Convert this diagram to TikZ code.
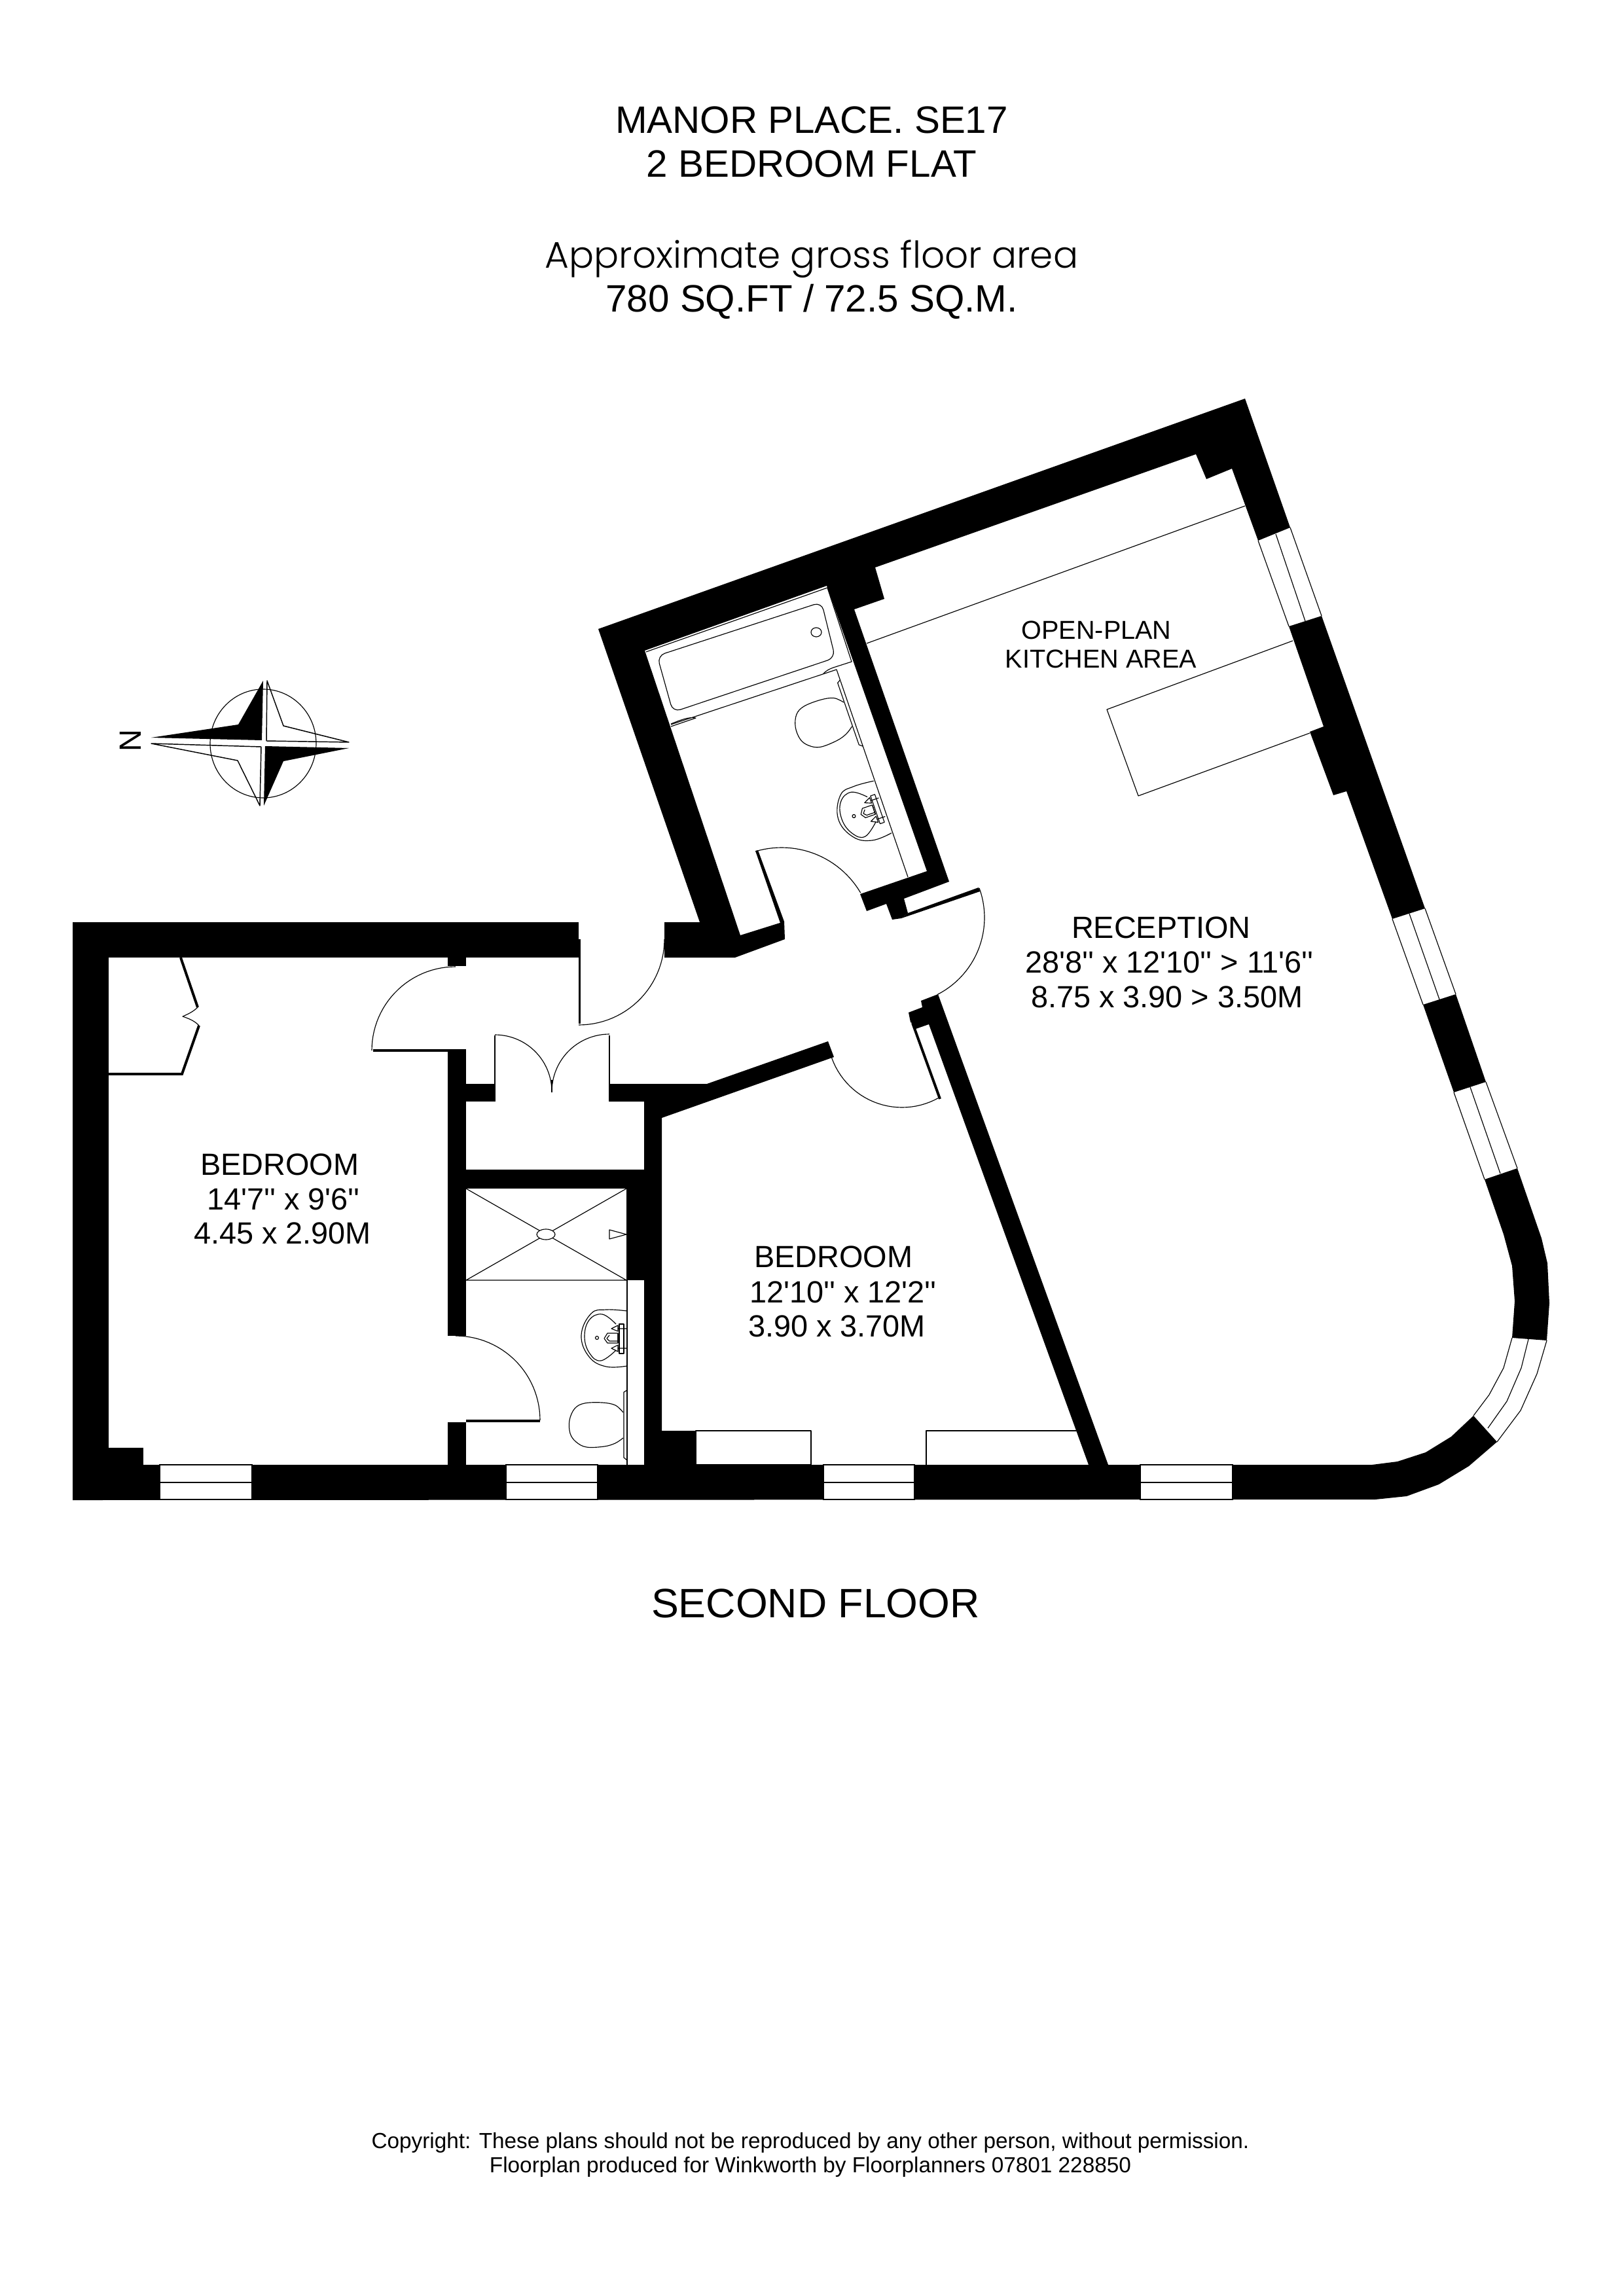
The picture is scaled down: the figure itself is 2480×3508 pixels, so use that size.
\documentclass[tikz,border=0pt]{standalone}
\usepackage{fontspec}
\newfontfamily\arl{Liberation Sans}
\newfontfamily\geo{Poppins}[UprightFont=* Light]
\tikzset{
  wall/.style={fill=black,draw=none},
  thinline/.style={draw=black,line width=0.28pt,line join=round},
  leaf/.style={draw=black,line width=0.95pt},
  glass/.style={fill=white,draw=black,line width=0.28pt},
  txt/.style={inner sep=0pt,outer sep=0pt,text=black,anchor=base west,font=\arl\fontsize{11.25}{13}\selectfont},
  small/.style={txt,anchor=base,font=\arl\fontsize{9.5}{11}\selectfont},
  head/.style={txt,anchor=base,font=\arl\fontsize{14}{16}\selectfont},
  foot/.style={txt,anchor=base,font=\arl\fontsize{8}{9}\selectfont}
}
\newcommand{\swing}[5]{\draw[thinline] plot[domain=#4:#5,samples=28] ({#1+#3*cos(\x)},{#2+#3*sin(\x)});}
\newcommand{\basin}[3]{\begin{scope}[shift={(#1,#2)},rotate=#3]
  \draw[thinline] plot[smooth,tension=0.7] coordinates {(0,-41)(-32,-43)(-55,-37)(-70,-4)(-58,29)(-32,44)(0,43)};
  \draw[thinline] plot[smooth,tension=0.7] coordinates {(-17,-21)(-38,-36)(-58,-27)(-65,-1)(-57,24)(-40,35)(-17,19)};
  \draw[thinline] (-46,0) circle [radius=2.5];
  \draw[thinline] (-12,-21) rectangle (-5,24);
  \draw[thinline] (-14,-7)--(-30,-7)--(-35,1)--(-30,8)--(-14,8)--cycle;
  \draw[thinline] (-14,-7)--(-14,8) (-27,-4)--(-31,1)--(-27,5)--(-14,5);
  \draw[thinline] (-24,-14)--(-14,-19)--(-14,-10)--cycle (-14,-14)--(-1,-14);
  \draw[thinline] (-24,16)--(-14,11)--(-14,21)--cycle (-14,16)--(-1,16);
\end{scope}}
\newcommand{\closet}[3]{\begin{scope}[shift={(#1,#2)},rotate=#3]
  \draw[thinline] plot[smooth,tension=0.6] coordinates {(-6,-20)(-18,-31)(-38,-35)(-65,-34)(-80,-26)(-88,-8)(-87,12)(-78,25)(-62,33)(-35,32)(-18,27)(-6,19)};
  \draw[thinline] (0,-54)--(-5,-51)--(-5,49)--(0,53);
\end{scope}}
\begin{document}
\begin{tikzpicture}[x=0.24pt,y=-0.24pt]
\useasboundingbox (0,0) rectangle (2480,3508);
% headings
\node[head] (t1) at (1240,204) {MANOR PLACE. SE17};
\node[head] (t2) at (1240,271) {2 BEDROOM FLAT};
\node[head,font=\geo\fontsize{13.55}{16}\selectfont] (t3) at (1240,410) {Approximate gross floor area};
\node[head] (t4) at (1240,477) {780 SQ.FT / 72.5 SQ.M.};
% compass
\draw[thinline] (402,1136) ellipse [x radius=81,y radius=83];
\fill[black] (231,1127)--(364,1107)--(402,1040)--(400,1131)--cycle;
\fill[black] (533,1143)--(433,1163)--(403,1231)--(405,1140)--cycle;
\draw[thinline,line width=0.35pt] (408,1040)--(433,1109)--(533,1134)--(407,1132)--cycle;
\draw[thinline,line width=0.35pt] (231,1136)--(363,1162)--(397,1231)--(399,1141)--cycle;
\node[txt,anchor=center,rotate=90] (north) at (199,1132) {N};
% door swings (under the walls)
\swing{696}{1605}{128}{180}{270}
\swing{696}{2170}{129}{-90}{0}
\swing{884}{1435}{131}{0}{90}
\swing{756}{1668}{87}{-90}{0}
\swing{931}{1668}{88}{180}{270}
\swing{1194}{1435}{140}{-106.6}{-30.4}
\swing{1372}{1402}{132}{-20}{63}
\swing{1378}{1578}{114}{60.6}{160.4}
\draw[thinline] (843,1650)--(843,1669);
% walls
\fill[wall] (111,1409) rectangle (884,1463);
\fill[wall] (111,1409) rectangle (166,2292);
\fill[wall] (111,2238)--(2096,2238)--(2135,2233)--(2178,2219)--(2217,2195)--(2251,2163)--(2287,2203)--(2244,2240)--(2198,2268)--(2149,2286)--(2101,2291)--(111,2292)--cycle;
\fill[wall] (166,2212) rectangle (219,2238);
\fill[wall] (684,1463) rectangle (712,1476);
\fill[wall] (684,1607) rectangle (712,2041);
\fill[wall] (684,2173) rectangle (712,2238);
\fill[wall] (712,1656) rectangle (756,1683);
\fill[wall] (931,1656)--(1080,1656)--(1265,1591)--(1274,1615)--(1011,1708)--(1011,2238)--(984,2238)--(984,1683)--(931,1683)--cycle;
\fill[wall] (712,1787) rectangle (984,1816);
\fill[wall] (957,1816) rectangle (984,1956);
\fill[wall] (1011,2186) rectangle (1063,2238);
\fill[wall] (1407,1529)--(1433,1519)--(1693,2238)--(1663,2238)--(1419,1565)--(1399,1572)--(1396,1564)--(1391,1562)--(1388,1547)--(1409,1539)--cycle;
\fill[wall] (914,961)--(1902,609)--(1971,806)--(1922,826)--(1882,716)--(1843,732)--(1827,694)--(1337,867)--(1351,915)--(1305,931)--(1450,1347)--(1381,1373)--(1387,1395)--(1377,1403)--(1363,1405)--(1354,1381)--(1324,1392)--(1314,1366)--(1416,1331)--(1263,895)--(985,994)--(1131,1429)--(1198,1408)--(1199,1435)--(1123,1463)--(1015,1463)--(1015,1409)--(1069,1409)--cycle;
\fill[wall] (1969,957)--(2019,941)--(2177,1388)--(2127,1404)--(2057,1209)--(2037,1215)--(2001,1118)--(2022,1110)--cycle;
\fill[wall] (2174,1535)--(2224,1519)--(2270,1653)--(2221,1669)--cycle;
\fill[wall] (2268,1802)--(2318,1785)--(2355,1892)--(2364,1930)--(2367,1991)--(2363,2048)--(2310,2044)--(2314,1988)--(2310,1934)--(2297,1886)--cycle;
% door leaves
\draw[leaf] (570,1605)--(712,1605);
\draw[leaf] (712,2171)--(825,2171);
\draw[leaf,line width=0.8pt] (885.5,1435)--(885.5,1564);
\draw[leaf,line width=0.5pt] (756,1582)--(756,1683);
\draw[leaf,line width=0.5pt] (931,1582)--(931,1683);
\fill[wall] (1154,1300)--(1158,1299)--(1198,1408)--(1194,1416)--cycle;
\fill[wall] (1387,1395)--(1495,1356)--(1497,1362)--(1377,1403)--cycle;
\draw[leaf] (1394,1563)--(1436,1679);
\draw[leaf] (166,1641)--(278,1641)--(304,1567);
\draw[leaf] (276,1463)--(302,1539);
\draw[thinline] (302,1539) .. controls (295,1546) and (286,1550) .. (279,1553) .. controls (288,1556) and (298,1560) .. (304,1567);
% windows in the bottom wall
\foreach \a/\b in {244/385,773/913,1258/1397,1742/1883}{
  \draw[glass] (\a,2238) rectangle (\b,2291);
  \draw[thinline] (\a,2265)--(\b,2265);
}
% windows in the right wall
\draw[thinline] (1922,826)--(1969,957) (1949,816)--(1994,949) (1971,806)--(2019,941);
\draw[thinline] (2127,1404)--(2174,1535) (2153,1396)--(2199,1527) (2177,1388)--(2224,1519);
\draw[thinline] (2221,1669)--(2268,1802) (2246,1661)--(2292,1793) (2270,1653)--(2318,1785);
\draw[thinline] (2310,2044)--(2297,2090)--(2275,2131)--(2251,2163);
\draw[thinline] (2335,2046)--(2324,2090)--(2302,2141)--(2273,2182);
\draw[thinline] (2363,2048)--(2348,2099)--(2323,2155)--(2287,2203);
% kitchen
\draw[thinline] (1324,983)--(1902,773);
\draw[thinline] (1975,979)--(1691,1084)--(1739,1216)--(2001,1120);
% bedroom 2 units
\draw[thinline] (1063,2186) rectangle (1239,2238);
\draw[thinline] (1645,2186)--(1415,2186)--(1415,2238);
% shower room
\draw[thinline] (712,1816)--(957,1956) (957,1816)--(712,1956) (712,1956)--(957,1956);
\draw[thinline,fill=white] (834,1886) ellipse [x radius=14,y radius=8];
\draw[thinline] (957,1886)--(931,1879)--(931,1893)--cycle;
\draw[thinline] (958,1956)--(958,2238);
\basin{958}{2044}{0}
\closet{958}{2178}{0}
% bathroom
\draw[thinline] (987,996)--(1264,898)--(1301,1011)--(1273,1020) .. controls (1267,1022) and (1262,1025) .. (1258,1029);
\draw[thinline] (1387,1340)--(1278,1023)--(1025,1107);
\draw[thinline] (1025,1110)--(1063,1097) .. controls (1052,1095) and (1040,1100) .. (1025,1106);
\draw[thinline,rounded corners=2.9pt] (1004,1002)--(1255,920)--(1276,1005)--(1028,1088)--cycle;
\draw[thinline] (1247,966) ellipse [x radius=8,y radius=7];
\closet{1301}{1090}{19}
\basin{1348}{1232}{19}
% room labels
\node[small] (k1) at (1675,977) {OPEN-PLAN};
\node[small] (k2) at (1682,1021) {KITCHEN AREA};
\node[txt] (r1) at (1637,1433) {RECEPTION};
\node[txt] (r2) at (1566,1486) {28'8'' x 12'10'' > 11'6''};
\node[txt] (r3) at (1575,1539) {8.75 x 3.90 > 3.50M};
\node[txt] (a1) at (306,1795) {BEDROOM};
\node[txt] (a2) at (316,1848) {14'7'' x 9'6''};
\node[txt] (a3) at (296,1900) {4.45 x 2.90M};
\node[txt] (b1) at (1152,1936) {BEDROOM};
\node[txt] (b2) at (1145,1990) {12'10'' x 12'2''};
\node[txt] (b3) at (1143,2042) {3.90 x 3.70M};
\node[head,font=\arl\fontsize{15.05}{18}\selectfont] (fl) at (1246,2471) {SECOND FLOOR};
\node[foot] (c1) at (1238,3282) {Copyright: These plans should not be reproduced by any other person, without permission.};
\node[foot] (c2) at (1238,3319) {Floorplan produced for Winkworth by Floorplanners 07801 228850};
\end{tikzpicture}
\end{document}
